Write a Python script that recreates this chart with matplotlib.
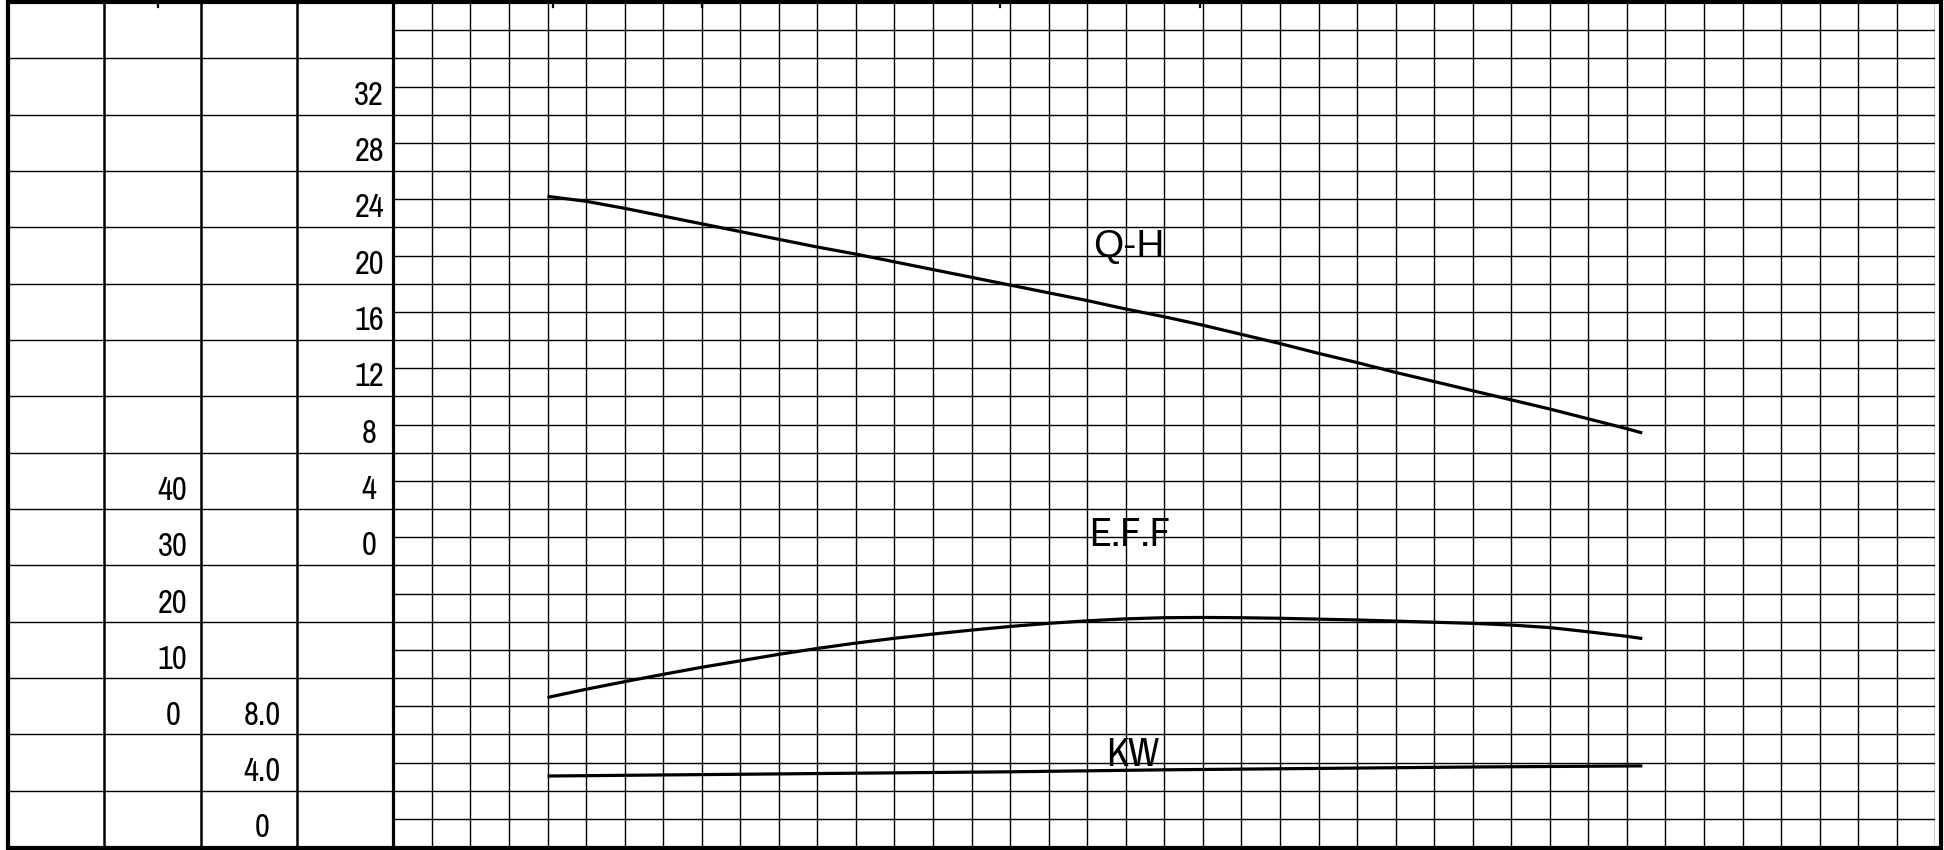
import matplotlib
matplotlib.use('Agg')
import matplotlib.pyplot as plt
from matplotlib import font_manager
from matplotlib.patches import Rectangle
from matplotlib.lines import Line2D

# flow read off as grid columns (no Q scale printed)
q = [4, 5, 6, 7, 8, 9, 10, 11, 12, 13, 14, 15, 16, 17, 18, 19, 20,
     21, 22, 23, 24, 25, 26, 27, 28, 29, 30, 31, 32, 32.4]
head = [26.2, 25.85, 25.35, 24.8, 24.25, 23.7, 23.15, 22.6, 22.1, 21.55, 21.0,
        20.45, 19.9, 19.35, 18.8, 18.2, 17.65, 17.05, 16.4, 15.75, 15.05, 14.4,
        13.7, 13.05, 12.4, 11.75, 11.1, 10.4, 9.7, 9.4]
eff = [6.55, 8.0, 9.35, 10.65, 11.9, 13.05, 14.2, 15.25, 16.2, 17.05, 17.8,
       18.5, 19.15, 19.7, 20.15, 20.5, 20.7, 20.75, 20.7, 20.6, 20.45, 20.3,
       20.1, 19.9, 19.7, 19.4, 18.95, 18.2, 17.4, 17.0]
q_kw = [4, 8, 12, 16, 20, 24, 28, 32.4]
kw = [5.04, 5.14, 5.24, 5.34, 5.48, 5.58, 5.68, 5.76]

h_labels = [32, 28, 24, 20, 16, 12, 8, 4, 0]
eff_labels = [40, 30, 20, 10, 0]
kw_labels = ['8.0', '4.0', '0']

names = {f.name for f in font_manager.fontManager.ttflist}
narrow_kw = {'family': 'Liberation Sans Narrow'}
if 'Liberation Sans Narrow' not in names:
    cands = sorted(n for n in names if 'Narrow' in n or 'Condensed' in n)
    if cands:
        narrow_kw = {'family': cands[0]}
    else:
        narrow_kw = {'family': 'DejaVu Sans', 'fontstretch': 'condensed'}

W, H = 1944, 850
fig = plt.figure(figsize=(W / 100, H / 100), dpi=100)


def box(x0, y0, x1, y1):
    # pixel box (top-left origin) -> figure rect
    return [x0 / W, 1 - y1 / H, (x1 - x0) / W, (y1 - y0) / H]


gx0, gx1, gy0, gy1 = 393.3, 1935.3, 2, 847

# fine grid: 40 columns x 30 rows
ax = fig.add_axes(box(gx0, gy0, gx1, gy1))
ax.set_xlim(0, 40)
ax.set_ylim(0, 30)
ax.set_xticks(range(41))
ax.set_yticks(range(31))
ax.grid(True, color='black', lw=1.0)
ax.tick_params(length=0, labelbottom=False, labelleft=False)
for s in ax.spines.values():
    s.set_visible(False)


def overlay(lo, hi):
    a = fig.add_axes(box(gx0, gy0, gx1, gy1), sharex=ax)
    a.set_ylim(lo, hi)
    a.patch.set_visible(False)
    a.axis('off')
    return a


# row = 10 + H/2, row = 4 + EFF/5, row = KW/2
ax_h = overlay(-20, 40)
ax_e = overlay(-20, 130)
ax_k = overlay(0, 60)
ax_h.plot(q, head, color='black', lw=2.3, solid_capstyle='butt', solid_joinstyle='round')
ax_e.plot(q, eff, color='black', lw=2.3, solid_capstyle='butt', solid_joinstyle='round')
ax_k.plot(q_kw, kw, color='black', lw=2.3, solid_capstyle='butt', solid_joinstyle='round')

ax.text(18.15, 20.95, 'Q-H', fontsize=28, family='Liberation Sans', va='baseline', ha='left')
ax.text(18.05, 10.7, 'E.F.F', fontsize=29, va='baseline', ha='left', **narrow_kw)
ax.text(18.5, 2.88, 'KW', fontsize=29, va='baseline', ha='left', **narrow_kw)

# left scale panel: 4 columns x 15 rows
axl = fig.add_axes(box(8, gy0, gx0, gy1))
axl.set_xlim(0, 4)
axl.set_ylim(0, 15)
axl.axis('off')
for i in range(1, 15):
    axl.axhline(i, color='black', lw=1.0)
for i in (1, 2, 3):
    axl.axvline(i, color='black', lw=1.8)

for v in h_labels:
    axl.text(3.75, (10 + v / 2) / 2 + 0.34, str(v), fontsize=23.5,
             ha='center', va='center', **narrow_kw)
for v in eff_labels:
    axl.text(1.71, (4 + v / 5) / 2 + 0.32, str(v), fontsize=23.5,
             ha='center', va='center', **narrow_kw)
for s in kw_labels:
    axl.text(2.64, float(s) / 4 + 0.33, s, fontsize=23.5,
             ha='center', va='center', **narrow_kw)

# frame
fig.add_artist(Rectangle((7.5 / W, 1 - 848 / H), (1941 - 7.5) / W, 846 / H,
                         transform=fig.transFigure, fill=False, lw=3.0, ec='black'))
fig.add_artist(Line2D([gx0 / W] * 2, [1 - gy1 / H, 1 - gy0 / H],
                      transform=fig.transFigure, color='black', lw=2.3))
for px in (158, 553, 702, 1000, 1200):
    fig.add_artist(Line2D([px / W] * 2, [1, 1 - 7 / H],
                          transform=fig.transFigure, color='black', lw=1.6))

fig.savefig('out.png', dpi=100, facecolor='white')
